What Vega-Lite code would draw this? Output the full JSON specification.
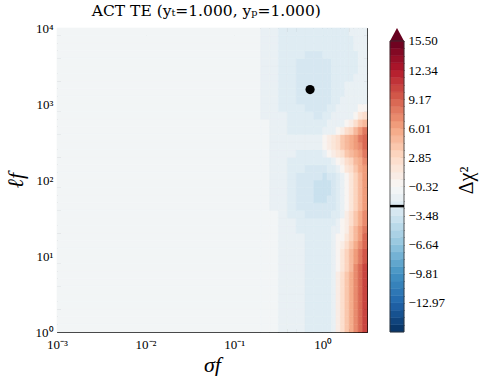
{
 "$schema": "https://vega.github.io/schema/vega-lite/v6.json",
 "background": "white",
 "padding": {"left": 4, "top": 3, "right": 2, "bottom": 0},
 "title": {"text": "ACT TE (yₜ=1.000, yₚ=1.000)", "font": "DejaVu Serif", "fontSize": 15.5, "fontWeight": "normal", "color": "black", "anchor": "middle", "dx": -34, "offset": 3},
 "config": {
  "view": {"stroke": null},
  "axis": {"grid": false, "zindex": 1, "labelFont": "Liberation Serif", "titleFont": "Liberation Serif", "labelFontSize": 13, "labelColor": "black", "titleColor": "black", "titleFontWeight": "normal", "domainColor": "black", "tickColor": "black", "domainWidth": 1, "tickWidth": 0.8}
 },
 "datasets": {
  "cols": [
   {"col":"c0","x0":0.001,"x1":0.19953},{"col":"c1","x0":0.19953,"x1":0.25119},{"col":"c2","x0":0.25119,"x1":0.31623},{"col":"c3","x0":0.31623,"x1":0.39811},{"col":"c4","x0":0.39811,"x1":0.50119},{"col":"c5","x0":0.50119,"x1":0.63096},{"col":"c6","x0":0.63096,"x1":0.79433},{"col":"c7","x0":0.79433,"x1":1},{"col":"c8","x0":1,"x1":1.122},{"col":"c9","x0":1.122,"x1":1.2589},{"col":"c10","x0":1.2589,"x1":1.4125},{"col":"c11","x0":1.4125,"x1":1.5849},{"col":"c12","x0":1.5849,"x1":1.7783},{"col":"c13","x0":1.7783,"x1":1.9953},{"col":"c14","x0":1.9953,"x1":2.2387},{"col":"c15","x0":2.2387,"x1":2.5119},{"col":"c16","x0":2.5119,"x1":2.8184},{"col":"c17","x0":2.8184,"x1":3.1623}
  ],
  "grid": [
   {"y0":1,"y1":1.2589,"c0":-0.7,"c1":-0.7,"c2":-0.7,"c3":-1.5,"c4":-1.5,"c5":-1.5,"c6":-2.3,"c7":-2.3,"c8":-2.3,"c9":-2.3,"c10":-1.5,"c11":1.1,"c12":2.6,"c13":4.2,"c14":5.8,"c15":7.4,"c16":9.0,"c17":10.5},
   {"y0":1.2589,"y1":1.5849,"c0":-0.7,"c1":-0.7,"c2":-0.7,"c3":-1.5,"c4":-1.5,"c5":-1.5,"c6":-2.3,"c7":-2.3,"c8":-2.3,"c9":-2.3,"c10":-1.5,"c11":1.1,"c12":2.6,"c13":4.2,"c14":5.8,"c15":7.4,"c16":9.0,"c17":10.5},
   {"y0":1.5849,"y1":1.9953,"c0":-0.7,"c1":-0.7,"c2":-0.7,"c3":-1.5,"c4":-1.5,"c5":-1.5,"c6":-2.3,"c7":-2.3,"c8":-2.3,"c9":-2.3,"c10":-1.5,"c11":1.1,"c12":2.6,"c13":4.2,"c14":5.8,"c15":7.4,"c16":9.0,"c17":10.5},
   {"y0":1.9953,"y1":2.5119,"c0":-0.7,"c1":-0.7,"c2":-0.7,"c3":-1.5,"c4":-1.5,"c5":-1.5,"c6":-2.3,"c7":-2.3,"c8":-2.3,"c9":-2.3,"c10":-1.5,"c11":1.1,"c12":2.6,"c13":4.2,"c14":5.8,"c15":7.4,"c16":9.0,"c17":10.5},
   {"y0":2.5119,"y1":3.1623,"c0":-0.7,"c1":-0.7,"c2":-0.7,"c3":-1.5,"c4":-1.5,"c5":-1.5,"c6":-2.3,"c7":-2.3,"c8":-2.3,"c9":-2.3,"c10":-1.5,"c11":1.1,"c12":2.6,"c13":4.2,"c14":5.8,"c15":7.4,"c16":9.0,"c17":10.5},
   {"y0":3.1623,"y1":3.9811,"c0":-0.7,"c1":-0.7,"c2":-0.7,"c3":-1.5,"c4":-1.5,"c5":-1.5,"c6":-2.3,"c7":-2.3,"c8":-2.3,"c9":-2.3,"c10":-1.5,"c11":1.1,"c12":2.6,"c13":4.2,"c14":5.8,"c15":7.4,"c16":9.0,"c17":10.5},
   {"y0":3.9811,"y1":5.0119,"c0":-0.7,"c1":-0.7,"c2":-0.7,"c3":-1.5,"c4":-1.5,"c5":-1.5,"c6":-2.3,"c7":-2.3,"c8":-2.3,"c9":-2.3,"c10":-1.5,"c11":0.8,"c12":2.3,"c13":3.9,"c14":5.4,"c15":6.9,"c16":8.5,"c17":10.1},
   {"y0":5.0119,"y1":6.3096,"c0":-0.7,"c1":-0.7,"c2":-0.7,"c3":-1.5,"c4":-1.5,"c5":-1.5,"c6":-2.3,"c7":-2.3,"c8":-2.3,"c9":-2.3,"c10":-1.5,"c11":0.8,"c12":2.3,"c13":3.9,"c14":5.4,"c15":6.9,"c16":8.5,"c17":10.1},
   {"y0":6.3096,"y1":7.9433,"c0":-0.7,"c1":-0.7,"c2":-0.7,"c3":-1.5,"c4":-1.5,"c5":-1.5,"c6":-2.3,"c7":-2.3,"c8":-2.3,"c9":-2.3,"c10":-1.5,"c11":0.3,"c12":2.0,"c13":3.6,"c14":5.2,"c15":7.0,"c16":8.7,"c17":10.3},
   {"y0":7.9433,"y1":10,"c0":-0.7,"c1":-0.7,"c2":-0.7,"c3":-1.5,"c4":-1.5,"c5":-1.5,"c6":-2.3,"c7":-2.3,"c8":-2.3,"c9":-2.3,"c10":-1.5,"c11":0.1,"c12":1.7,"c13":3.3,"c14":4.8,"c15":6.4,"c16":8.0,"c17":9.5},
   {"y0":10,"y1":12.589,"c0":-0.7,"c1":-0.7,"c2":-0.7,"c3":-1.5,"c4":-1.5,"c5":-1.5,"c6":-2.3,"c7":-2.3,"c8":-2.3,"c9":-2.3,"c10":-1.5,"c11":0.0,"c12":1.4,"c13":3.0,"c14":4.7,"c15":6.3,"c16":7.9,"c17":9.5},
   {"y0":12.589,"y1":15.849,"c0":-0.7,"c1":-0.7,"c2":-0.7,"c3":-1.5,"c4":-1.5,"c5":-1.5,"c6":-2.3,"c7":-2.3,"c8":-2.3,"c9":-2.3,"c10":-1.5,"c11":0.0,"c12":0.8,"c13":2.4,"c14":4.1,"c15":5.7,"c16":7.3,"c17":9.0},
   {"y0":15.849,"y1":19.953,"c0":-0.7,"c1":-0.7,"c2":-0.7,"c3":-1.5,"c4":-1.5,"c5":-1.5,"c6":-2.3,"c7":-2.3,"c8":-2.3,"c9":-2.3,"c10":-1.5,"c11":0.0,"c12":0.1,"c13":1.8,"c14":3.5,"c15":5.2,"c16":6.8,"c17":8.5},
   {"y0":19.953,"y1":25.119,"c0":-0.7,"c1":-0.7,"c2":-0.7,"c3":-1.5,"c4":-1.5,"c5":-2.3,"c6":-2.3,"c7":-2.3,"c8":-2.3,"c9":-2.3,"c10":-1.5,"c11":-1.5,"c12":0.0,"c13":1.2,"c14":2.9,"c15":4.6,"c16":6.3,"c17":8.0},
   {"y0":25.119,"y1":31.623,"c0":-0.7,"c1":-0.7,"c2":-0.7,"c3":-1.5,"c4":-1.5,"c5":-2.3,"c6":-2.3,"c7":-2.3,"c8":-2.3,"c9":-2.3,"c10":-2.3,"c11":-1.5,"c12":0.0,"c13":0.8,"c14":2.5,"c15":4.1,"c16":5.8,"c17":7.5},
   {"y0":31.623,"y1":39.811,"c0":-0.7,"c1":-0.7,"c2":-0.7,"c3":-1.5,"c4":-2.3,"c5":-2.3,"c6":-3.1,"c7":-3.1,"c8":-3.1,"c9":-3.1,"c10":-2.3,"c11":-2.3,"c12":-1.5,"c13":0.7,"c14":2.3,"c15":3.9,"c16":5.5,"c17":7.0},
   {"y0":39.811,"y1":50.119,"c0":-0.7,"c1":-0.7,"c2":-1.5,"c3":-1.5,"c4":-2.3,"c5":-3.1,"c6":-3.1,"c7":-3.1,"c8":-3.1,"c9":-3.1,"c10":-3.1,"c11":-2.3,"c12":-1.5,"c13":0.2,"c14":2.0,"c15":3.5,"c16":5.0,"c17":6.5},
   {"y0":50.119,"y1":63.096,"c0":-0.7,"c1":-0.7,"c2":-1.5,"c3":-1.5,"c4":-2.3,"c5":-3.1,"c6":-3.1,"c7":-3.9,"c8":-3.9,"c9":-3.1,"c10":-3.1,"c11":-2.3,"c12":-1.5,"c13":0.0,"c14":1.6,"c15":3.1,"c16":4.6,"c17":6.1},
   {"y0":63.096,"y1":79.433,"c0":-0.7,"c1":-0.7,"c2":-1.5,"c3":-1.5,"c4":-2.3,"c5":-3.1,"c6":-3.1,"c7":-3.9,"c8":-3.9,"c9":-3.9,"c10":-3.1,"c11":-2.3,"c12":-1.5,"c13":0.0,"c14":1.6,"c15":3.1,"c16":4.6,"c17":6.1},
   {"y0":79.433,"y1":100,"c0":-0.7,"c1":-0.7,"c2":-1.5,"c3":-1.5,"c4":-2.3,"c5":-3.1,"c6":-3.1,"c7":-3.9,"c8":-3.9,"c9":-3.9,"c10":-3.1,"c11":-2.3,"c12":-1.5,"c13":0.0,"c14":1.6,"c15":3.1,"c16":4.6,"c17":6.1},
   {"y0":100,"y1":125.89,"c0":-0.7,"c1":-0.7,"c2":-1.5,"c3":-1.5,"c4":-2.3,"c5":-3.1,"c6":-3.1,"c7":-3.1,"c8":-3.9,"c9":-3.1,"c10":-3.1,"c11":-2.3,"c12":-1.5,"c13":0.3,"c14":1.8,"c15":3.4,"c16":4.8,"c17":6.1},
   {"y0":125.89,"y1":158.49,"c0":-0.7,"c1":-0.7,"c2":-1.5,"c3":-1.5,"c4":-2.3,"c5":-2.3,"c6":-3.1,"c7":-3.1,"c8":-3.1,"c9":-2.3,"c10":-2.3,"c11":-1.5,"c12":0.0,"c13":1.5,"c14":2.7,"c15":4.1,"c16":5.4,"c17":6.7},
   {"y0":158.49,"y1":199.53,"c0":-0.7,"c1":-0.7,"c2":-1.5,"c3":-1.5,"c4":-2.3,"c5":-2.3,"c6":-2.3,"c7":-2.3,"c8":-2.3,"c9":-2.3,"c10":-1.5,"c11":0.0,"c12":1.1,"c13":2.3,"c14":3.5,"c15":4.8,"c16":6.0,"c17":7.2},
   {"y0":199.53,"y1":251.19,"c0":-0.7,"c1":-0.7,"c2":-1.5,"c3":-1.5,"c4":-1.5,"c5":-2.3,"c6":-2.3,"c7":-2.3,"c8":-1.5,"c9":0.0,"c10":0.8,"c11":1.8,"c12":2.8,"c13":3.8,"c14":4.8,"c15":5.8,"c16":6.8,"c17":7.8},
   {"y0":251.19,"y1":316.23,"c0":-0.7,"c1":-0.7,"c2":-1.5,"c3":-1.5,"c4":-1.5,"c5":-1.5,"c6":-1.5,"c7":-1.5,"c8":0.1,"c9":0.95,"c10":1.8,"c11":2.8,"c12":3.7,"c13":4.6,"c14":5.6,"c15":6.5,"c16":7.4,"c17":8.4},
   {"y0":316.23,"y1":398.11,"c0":-0.7,"c1":-0.7,"c2":-1.5,"c3":-1.5,"c4":-1.5,"c5":-1.5,"c6":-1.5,"c7":-1.5,"c8":0.1,"c9":0.6,"c10":1.6,"c11":2.6,"c12":3.7,"c13":4.7,"c14":5.7,"c15":6.8,"c16":7.8,"c17":8.8},
   {"y0":398.11,"y1":501.19,"c0":-0.7,"c1":-0.7,"c2":-1.5,"c3":-1.5,"c4":-2.3,"c5":-2.3,"c6":-2.3,"c7":-2.3,"c8":-1.5,"c9":-1.5,"c10":-1.5,"c11":0.1,"c12":1.0,"c13":2.3,"c14":3.6,"c15":5.0,"c16":6.3,"c17":7.6},
   {"y0":501.19,"y1":630.96,"c0":-0.7,"c1":-0.7,"c2":-1.5,"c3":-1.5,"c4":-2.3,"c5":-2.3,"c6":-2.3,"c7":-2.3,"c8":-2.3,"c9":-1.5,"c10":-1.5,"c11":-1.5,"c12":-1.5,"c13":0.1,"c14":1.2,"c15":2.5,"c16":3.8,"c17":5.1},
   {"y0":630.96,"y1":794.33,"c0":-0.7,"c1":-1.5,"c2":-1.5,"c3":-1.5,"c4":-2.3,"c5":-2.3,"c6":-2.3,"c7":-3.1,"c8":-2.3,"c9":-2.3,"c10":-1.5,"c11":-1.5,"c12":-1.5,"c13":-1.5,"c14":-1.5,"c15":0.1,"c16":1.3,"c17":2.6},
   {"y0":794.33,"y1":1000,"c0":-0.7,"c1":-1.5,"c2":-1.5,"c3":-2.3,"c4":-2.3,"c5":-2.3,"c6":-3.1,"c7":-3.1,"c8":-3.1,"c9":-2.3,"c10":-2.3,"c11":-1.5,"c12":-1.5,"c13":-1.5,"c14":-1.5,"c15":-1.5,"c16":-0.3,"c17":0.1},
   {"y0":1000,"y1":1258.9,"c0":-0.7,"c1":-1.5,"c2":-1.5,"c3":-2.3,"c4":-2.3,"c5":-3.1,"c6":-3.1,"c7":-3.1,"c8":-3.1,"c9":-3.1,"c10":-2.3,"c11":-2.3,"c12":-1.5,"c13":-1.5,"c14":-1.5,"c15":-1.5,"c16":-1.5,"c17":-1.5},
   {"y0":1258.9,"y1":1584.9,"c0":-0.7,"c1":-1.5,"c2":-1.5,"c3":-2.3,"c4":-2.3,"c5":-3.1,"c6":-3.1,"c7":-3.1,"c8":-3.1,"c9":-3.1,"c10":-2.3,"c11":-2.3,"c12":-2.3,"c13":-1.5,"c14":-1.5,"c15":-1.5,"c16":-1.5,"c17":-1.5},
   {"y0":1584.9,"y1":1995.3,"c0":-0.7,"c1":-1.5,"c2":-1.5,"c3":-2.3,"c4":-2.3,"c5":-3.1,"c6":-3.1,"c7":-3.1,"c8":-3.1,"c9":-3.1,"c10":-2.3,"c11":-2.3,"c12":-2.3,"c13":-1.5,"c14":-1.5,"c15":-1.5,"c16":-1.5,"c17":-1.5},
   {"y0":1995.3,"y1":2511.9,"c0":-0.7,"c1":-1.5,"c2":-1.5,"c3":-2.3,"c4":-2.3,"c5":-3.1,"c6":-3.1,"c7":-3.1,"c8":-3.1,"c9":-3.1,"c10":-2.3,"c11":-2.3,"c12":-2.3,"c13":-2.3,"c14":-2.3,"c15":-1.5,"c16":-1.5,"c17":-1.5},
   {"y0":2511.9,"y1":3162.3,"c0":-0.7,"c1":-1.5,"c2":-1.5,"c3":-2.3,"c4":-2.3,"c5":-3.1,"c6":-3.1,"c7":-3.1,"c8":-3.1,"c9":-3.1,"c10":-2.3,"c11":-2.3,"c12":-2.3,"c13":-2.3,"c14":-2.3,"c15":-2.3,"c16":-1.5,"c17":-1.5},
   {"y0":3162.3,"y1":3981.1,"c0":-0.7,"c1":-1.5,"c2":-1.5,"c3":-2.3,"c4":-2.3,"c5":-3.1,"c6":-3.1,"c7":-3.1,"c8":-3.1,"c9":-3.1,"c10":-2.3,"c11":-2.3,"c12":-2.3,"c13":-2.3,"c14":-2.3,"c15":-2.3,"c16":-1.5,"c17":-1.5},
   {"y0":3981.1,"y1":5011.9,"c0":-0.7,"c1":-1.5,"c2":-1.5,"c3":-2.3,"c4":-2.3,"c5":-2.3,"c6":-3.1,"c7":-3.1,"c8":-2.3,"c9":-2.3,"c10":-2.3,"c11":-2.3,"c12":-2.3,"c13":-2.3,"c14":-2.3,"c15":-2.3,"c16":-1.5,"c17":-1.5},
   {"y0":5011.9,"y1":6309.6,"c0":-0.7,"c1":-1.5,"c2":-1.5,"c3":-2.3,"c4":-2.3,"c5":-2.3,"c6":-2.3,"c7":-2.3,"c8":-2.3,"c9":-2.3,"c10":-2.3,"c11":-2.3,"c12":-2.3,"c13":-2.3,"c14":-2.3,"c15":-1.5,"c16":-1.5,"c17":-1.5},
   {"y0":6309.6,"y1":7943.3,"c0":-0.7,"c1":-1.5,"c2":-1.5,"c3":-2.3,"c4":-2.3,"c5":-2.3,"c6":-2.3,"c7":-2.3,"c8":-2.3,"c9":-2.3,"c10":-2.3,"c11":-2.3,"c12":-2.3,"c13":-2.3,"c14":-2.3,"c15":-1.5,"c16":-1.5,"c17":-1.5},
   {"y0":7943.3,"y1":10000,"c0":-0.7,"c1":-1.5,"c2":-1.5,"c3":-2.3,"c4":-2.3,"c5":-2.3,"c6":-2.3,"c7":-2.3,"c8":-2.3,"c9":-2.3,"c10":-2.3,"c11":-2.3,"c12":-2.3,"c13":-2.3,"c14":-1.5,"c15":-1.5,"c16":-1.5,"c17":-1.5}
  ],
  "cb": [
   {"lo":-16.133,"hi":-15.342,"m":-15.738},{"lo":-15.342,"hi":-14.551,"m":-14.947},{"lo":-14.551,"hi":-13.761,"m":-14.156},{"lo":-13.761,"hi":-12.970,"m":-13.366},
   {"lo":-12.970,"hi":-12.179,"m":-12.575},{"lo":-12.179,"hi":-11.388,"m":-11.784},{"lo":-11.388,"hi":-10.597,"m":-10.993},{"lo":-10.597,"hi":-9.806,"m":-10.202},
   {"lo":-9.806,"hi":-9.016,"m":-9.411},{"lo":-9.016,"hi":-8.225,"m":-8.620},{"lo":-8.225,"hi":-7.434,"m":-7.830},{"lo":-7.434,"hi":-6.643,"m":-7.039},
   {"lo":-6.643,"hi":-5.852,"m":-6.248},{"lo":-5.852,"hi":-5.062,"m":-5.457},{"lo":-5.062,"hi":-4.271,"m":-4.666},{"lo":-4.271,"hi":-3.480,"m":-3.875},
   {"lo":-3.480,"hi":-2.689,"m":-3.085},{"lo":-2.689,"hi":-1.898,"m":-2.294},{"lo":-1.898,"hi":-1.108,"m":-1.503},{"lo":-1.108,"hi":-0.317,"m":-0.712},
   {"lo":-0.317,"hi":0.474,"m":0.078},{"lo":0.474,"hi":1.265,"m":0.869},{"lo":1.265,"hi":2.056,"m":1.660},{"lo":2.056,"hi":2.847,"m":2.451},
   {"lo":2.847,"hi":3.638,"m":3.242},{"lo":3.638,"hi":4.428,"m":4.033},{"lo":4.428,"hi":5.219,"m":4.824},{"lo":5.219,"hi":6.010,"m":5.615},
   {"lo":6.010,"hi":6.801,"m":6.405},{"lo":6.801,"hi":7.592,"m":7.196},{"lo":7.592,"hi":8.383,"m":7.987},{"lo":8.383,"hi":9.173,"m":8.778},
   {"lo":9.173,"hi":9.964,"m":9.569},{"lo":9.964,"hi":10.755,"m":10.360},{"lo":10.755,"hi":11.546,"m":11.151},{"lo":11.546,"hi":12.337,"m":11.942},
   {"lo":12.337,"hi":13.128,"m":12.732},{"lo":13.128,"hi":13.919,"m":13.523},{"lo":13.919,"hi":14.709,"m":14.314},{"lo":14.709,"hi":15.500,"m":15.105}
  ]
 },
 "spacing": 20,
 "hconcat": [
  {
   "width": 310,
   "height": 304,
   "resolve": {"axis": {"x": "independent", "y": "independent"}},
   "layer": [
    {
     "data": {"name": "grid"},
     "transform": [
      {"fold": ["c0","c1","c2","c3","c4","c5","c6","c7","c8","c9","c10","c11","c12","c13","c14","c15","c16","c17"], "as": ["col", "v"]},
      {"lookup": "col", "from": {"data": {"name": "cols"}, "key": "col", "fields": ["x0", "x1"]}}
     ],
     "mark": {"type": "rect", "strokeWidth": 0.6},
     "encoding": {
      "x": {"field": "x0", "type": "quantitative", "scale": {"type": "log", "domain": [0.001, 3.1623], "nice": false},
       "axis": {"orient": "bottom", "values": [0.001,0.002,0.003,0.004,0.005,0.006,0.007,0.008,0.009,0.01,0.02,0.03,0.04,0.05,0.06,0.07,0.08,0.09,0.1,0.2,0.3,0.4,0.5,0.6,0.7,0.8,0.9,1,2,3],
        "labelExpr": "datum.value == 0.001 ? '10⁻³' : datum.value == 0.01 ? '10⁻²' : datum.value == 0.1 ? '10⁻¹' : datum.value == 1 ? '10⁰' : ''",
        "title": "σf", "titleFontSize": 22, "titleFontStyle": "italic", "titlePadding": 0,
        "labelPadding": 13, "labelOverlap": false, "labelFlush": false, "labelBound": false,
        "tickSize": {"condition": {"test": "indexof([0.001,0.01,0.1,1], datum.value) >= 0", "value": -7}, "value": -3.5}}},
      "x2": {"field": "x1"},
      "y": {"field": "y0", "type": "quantitative", "scale": {"type": "log", "domain": [1, 10000], "nice": false},
       "axis": {"orient": "left", "values": [1,2,3,4,5,6,7,8,9,10,20,30,40,50,60,70,80,90,100,200,300,400,500,600,700,800,900,1000,2000,3000,4000,5000,6000,7000,8000,9000,10000],
        "labelExpr": "datum.value == 1 ? '10⁰' : datum.value == 10 ? '10¹' : datum.value == 100 ? '10²' : datum.value == 1000 ? '10³' : datum.value == 10000 ? '10⁴' : ''",
        "title": "ℓf", "titleFontSize": 22, "titleFontStyle": "italic", "titlePadding": 8,
        "labelPadding": 11, "labelOverlap": false, "labelFlush": false, "labelBound": false,
        "tickSize": {"condition": {"test": "indexof([1,10,100,1000,10000], datum.value) >= 0", "value": -7}, "value": -3.5}}},
      "y2": {"field": "y1"},
      "color": {"field": "v", "type": "quantitative", "legend": null,
       "scale": {"type": "quantize", "domain": [-16.133, 15.5], "nice": false, "zero": false, "range": ["#09376a","#10447d","#175290","#1e5fa3","#256caf","#2e77b5","#3682ba","#3f8dc0","#4d99c6","#61a6cd","#74b2d4","#88bfdb","#9ac9e0","#aad1e5","#b9d9e9","#c9e1ee","#d6e7f1","#dfecf3","#e9f0f4","#f2f5f6","#f8f4f1","#f9ece5","#fbe6d9","#fcdecd","#fcd4be","#fac7ad","#f7b99c","#f5ac8b","#f09c7b","#e98b6e","#e17a61","#da6954","#d25749","#c94540","#c03338","#b7212f","#a9152a","#960f27","#830924","#700321"]}},
      "stroke": {"field": "v", "type": "quantitative", "legend": null,
       "scale": {"type": "quantize", "domain": [-16.133, 15.5], "nice": false, "zero": false, "range": ["#09376a","#10447d","#175290","#1e5fa3","#256caf","#2e77b5","#3682ba","#3f8dc0","#4d99c6","#61a6cd","#74b2d4","#88bfdb","#9ac9e0","#aad1e5","#b9d9e9","#c9e1ee","#d6e7f1","#dfecf3","#e9f0f4","#f2f5f6","#f8f4f1","#f9ece5","#fbe6d9","#fcdecd","#fcd4be","#fac7ad","#f7b99c","#f5ac8b","#f09c7b","#e98b6e","#e17a61","#da6954","#d25749","#c94540","#c03338","#b7212f","#a9152a","#960f27","#830924","#700321"]}}
     }
    },
    {
     "data": {"values": [{"sigma": 0.72, "ell": 1550}]},
     "mark": {"type": "point", "filled": true, "color": "black", "size": 85, "opacity": 1},
     "encoding": {
      "x": {"field": "sigma", "type": "quantitative",
       "axis": {"orient": "top", "values": [0.001,0.002,0.003,0.004,0.005,0.006,0.007,0.008,0.009,0.01,0.02,0.03,0.04,0.05,0.06,0.07,0.08,0.09,0.1,0.2,0.3,0.4,0.5,0.6,0.7,0.8,0.9,1,2,3],
        "labels": false, "title": null,
        "tickSize": {"condition": {"test": "indexof([0.001,0.01,0.1,1], datum.value) >= 0", "value": -7}, "value": -3.5}}},
      "y": {"field": "ell", "type": "quantitative",
       "axis": {"orient": "right", "values": [1,2,3,4,5,6,7,8,9,10,20,30,40,50,60,70,80,90,100,200,300,400,500,600,700,800,900,1000,2000,3000,4000,5000,6000,7000,8000,9000,10000],
        "labels": false, "title": null,
        "tickSize": {"condition": {"test": "indexof([1,10,100,1000,10000], datum.value) >= 0", "value": -7}, "value": -3.5}}}
     }
    }
   ]
  },
  {
   "width": 14,
   "height": 304,
   "resolve": {"axis": {"y": "independent"}},
   "layer": [
    {
     "data": {"name": "cb"},
     "mark": {"type": "rect", "strokeWidth": 0.5},
     "encoding": {
      "y": {"field": "lo", "type": "quantitative", "scale": {"domain": [-16.133, 16.91], "nice": false, "zero": false},
       "axis": {"orient": "right", "values": [-15.342,-14.551,-13.761,-12.970,-12.179,-11.388,-10.597,-9.806,-9.016,-8.225,-7.434,-6.643,-5.852,-5.062,-4.271,-3.480,-2.689,-1.898,-1.108,-0.317,0.474,1.265,2.056,2.847,3.638,4.428,5.219,6.010,6.801,7.592,8.383,9.173,9.964,10.755,11.546,12.337,13.128,13.919,14.709,15.5],
        "labelExpr": "indexof([15.5,12.337,9.173,6.01,2.847,-0.317,-3.48,-6.643,-9.806,-12.97], datum.value) >= 0 ? format(datum.value, '.2f') : ''",
        "domain": false, "tickSize": -4, "tickColor": "#222", "labelPadding": 8, "labelOverlap": false, "labelFlush": false, "labelBound": false,
        "title": "Δχ²", "titleFontSize": 20, "titleAngle": 270, "titleBaseline": "top", "titlePadding": 12}},
      "y2": {"field": "hi"},
      "color": {"field": "m", "type": "quantitative", "legend": null,
       "scale": {"type": "quantize", "domain": [-16.133, 15.5], "nice": false, "zero": false, "range": ["#09376a","#10447d","#175290","#1e5fa3","#256caf","#2e77b5","#3682ba","#3f8dc0","#4d99c6","#61a6cd","#74b2d4","#88bfdb","#9ac9e0","#aad1e5","#b9d9e9","#c9e1ee","#d6e7f1","#dfecf3","#e9f0f4","#f2f5f6","#f8f4f1","#f9ece5","#fbe6d9","#fcdecd","#fcd4be","#fac7ad","#f7b99c","#f5ac8b","#f09c7b","#e98b6e","#e17a61","#da6954","#d25749","#c94540","#c03338","#b7212f","#a9152a","#960f27","#830924","#700321"]}},
      "stroke": {"field": "m", "type": "quantitative", "legend": null,
       "scale": {"type": "quantize", "domain": [-16.133, 15.5], "nice": false, "zero": false, "range": ["#09376a","#10447d","#175290","#1e5fa3","#256caf","#2e77b5","#3682ba","#3f8dc0","#4d99c6","#61a6cd","#74b2d4","#88bfdb","#9ac9e0","#aad1e5","#b9d9e9","#c9e1ee","#d6e7f1","#dfecf3","#e9f0f4","#f2f5f6","#f8f4f1","#f9ece5","#fbe6d9","#fcdecd","#fcd4be","#fac7ad","#f7b99c","#f5ac8b","#f09c7b","#e98b6e","#e17a61","#da6954","#d25749","#c94540","#c03338","#b7212f","#a9152a","#960f27","#830924","#700321"]}}
     }
    },
    {
     "data": {"values": [{"tx": 0, "ty": 15.5}, {"tx": 0.5, "ty": 16.91}, {"tx": 1, "ty": 15.5}]},
     "mark": {"type": "area", "color": "#67001f"},
     "encoding": {
      "x": {"field": "tx", "type": "quantitative", "scale": {"domain": [0, 1], "nice": false, "zero": false}, "axis": null},
      "y": {"field": "ty", "type": "quantitative", "axis": null},
      "y2": {"datum": 15.5}
     }
    },
    {
     "data": {"values": [{"lo": -16.133, "hi": 15.5}]},
     "mark": {"type": "rect", "filled": false, "stroke": "#333", "strokeWidth": 0.8},
     "encoding": {
      "y": {"field": "lo", "type": "quantitative", "axis": null},
      "y2": {"field": "hi"}
     }
    },
    {
     "data": {"values": [{"level": -2.45}]},
     "mark": {"type": "rule", "color": "black", "strokeWidth": 2.5},
     "encoding": {
      "y": {"field": "level", "type": "quantitative", "axis": null}
     }
    }
   ]
  }
 ]
}
